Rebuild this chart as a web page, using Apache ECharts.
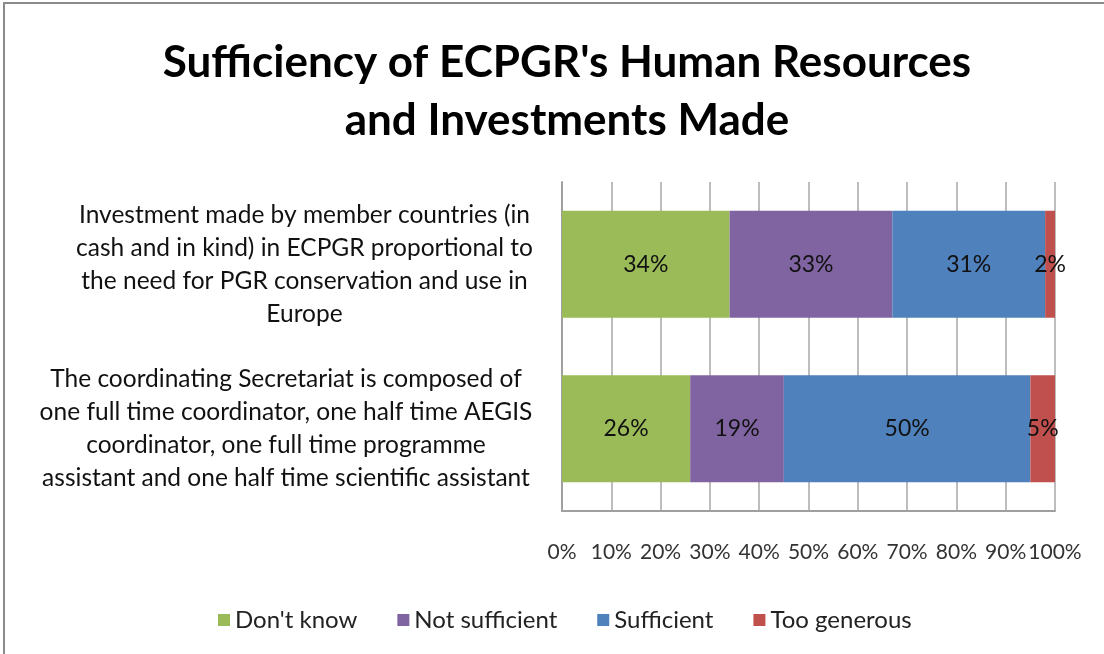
<!DOCTYPE html>
<html>
<head>
<meta charset="utf-8">
<script src="https://cdn.jsdelivr.net/npm/echarts@6/dist/echarts.min.js"></script>
<style>
  html, body { margin: 0; padding: 0; background: #fff; }
  #chart { width: 1104px; height: 654px; }
</style>
</head>
<body>
<div id="chart"></div>
<script>
// 分类（从下到上）
const categories = [
  'The coordinating Secretariat is composed of\none full time coordinator, one half time AEGIS\ncoordinator, one full time programme\nassistant and one half time scientific assistant',
  'Investment made by member countries (in\ncash and in kind) in ECPGR proportional to\nthe need for PGR conservation and use in\nEurope'
]
const seriesNames = ["Don't know", 'Not sufficient', 'Sufficient', 'Too generous']
const dontKnow = [26, 34]
const notSufficient = [19, 33]
const sufficient = [50, 31]
const tooGenerous = [5, 2]
const colors = ['#9bbb59', '#8064a2', '#4f81bd', '#c0504d']

const font = 'Lato, "Open Sans", sans-serif'
const myChart = echarts.init(document.querySelector('#chart'))

// 每组标签的块宽度（让每行在块内居中）
const labelStyle = width => ({
  fontFamily: font,
  fontSize: 24.5,
  color: '#111',
  lineHeight: 33,
  width,
  align: 'center'
})

const values = [dontKnow, notSufficient, sufficient, tooGenerous]
const option = {
  animation: false,
  color: colors,
  textStyle: { fontFamily: font },
  title: {
    text: "Sufficiency of ECPGR's Human Resources\nand Investments Made",
    left: 562,
    textAlign: 'center',
    top: 29,
    textStyle: {
      fontFamily: font,
      fontSize: 44,
      fontWeight: 'bold',
      color: '#000',
      lineHeight: 58
    }
  },
  // 外框
  graphic: [{
    type: 'rect',
    shape: { x: 4, y: 3, width: 1120, height: 680 },
    style: { fill: 'none', stroke: '#8a8a8a', lineWidth: 2 },
    silent: true
  }],
  legend: {
    bottom: 17,
    left: 213,
    itemWidth: 12,
    itemHeight: 12,
    itemGap: 40,
    icon: 'rect',
    textStyle: { fontFamily: font, fontSize: 24, color: '#222' },
    data: seriesNames
  },
  grid: {
    left: 562,
    right: 49,
    top: 182,
    bottom: 143
  },
  xAxis: {
    type: 'value',
    min: 0,
    max: 100,
    interval: 10,
    axisLine: { show: true, lineStyle: { color: '#a0a0a0', width: 2 } },
    axisTick: { show: false },
    axisLabel: {
      formatter: '{value}%',
      fontFamily: font,
      fontSize: 21,
      color: '#333',
      margin: 31,
      showMinLabel: true,
      showMaxLabel: true,
      hideOverlap: false
    },
    splitLine: { show: true, lineStyle: { color: '#bdbdbd', width: 2 } }
  },
  yAxis: {
    type: 'category',
    data: categories,
    axisLine: { show: true, lineStyle: { color: '#a0a0a0', width: 2 } },
    axisTick: { show: false },
    axisLabel: {
      align: 'right',
      margin: 31,
      formatter: (v, i) => v.split('\n').map(s => `{c${i}|${s}}`).join('\n'),
      rich: {
        c0: labelStyle(490),
        c1: labelStyle(453)
      }
    }
  },
  series: seriesNames.map((name, i) => ({
    name,
    type: 'bar',
    stack: 'total',
    barWidth: '65%',
    data: values[i],
    label: {
      show: true,
      position: 'inside',
      formatter: '{c}%',
      fontFamily: font,
      fontSize: 23,
      color: '#111'
    }
  }))
}
myChart.setOption(option)
</script>
</body>
</html>
